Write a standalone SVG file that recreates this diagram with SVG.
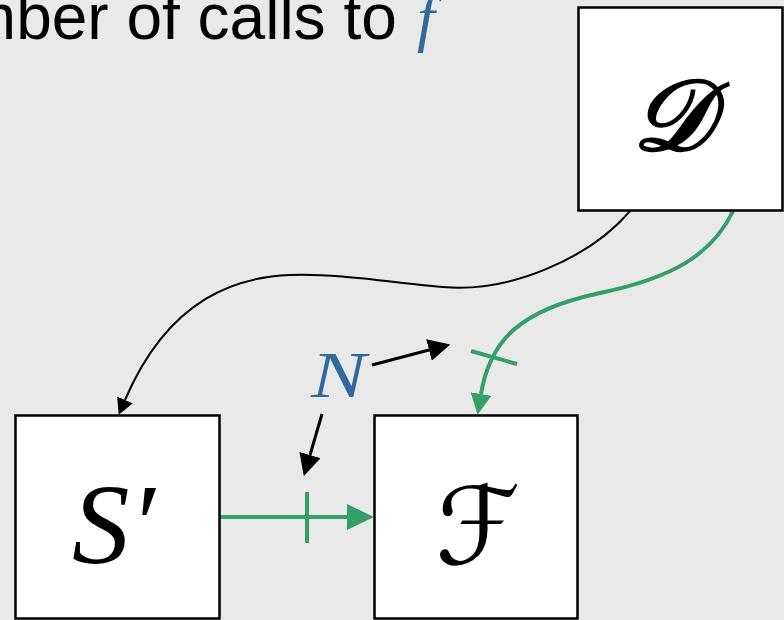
<svg xmlns="http://www.w3.org/2000/svg" width="784" height="620" viewBox="0 0 784 620">
<defs>
<style>
.box{fill:#fff;stroke:#000;stroke-width:2.5}
.cal{font-family:"DejaVu Serif","DejaVu Sans",serif;font-style:italic;fill:#000;text-anchor:middle}
.it{font-family:"Liberation Serif","Times New Roman",serif;font-style:italic}
.blk{fill:none;stroke:#000}
.grn{fill:none;stroke:#369e68;stroke-width:4}
</style>
<marker id="ab" viewBox="0 0 22 22" refX="0" refY="11" markerWidth="22" markerHeight="22" markerUnits="userSpaceOnUse" orient="auto"><path d="M0,0 L22,11 L0,22 z" fill="#000"/></marker>
<marker id="abs" viewBox="0 0 16 17" refX="0" refY="8.5" markerWidth="16" markerHeight="17" markerUnits="userSpaceOnUse" orient="auto"><path d="M0,0 L16,8.5 L0,17 z" fill="#000"/></marker>
<marker id="ag" viewBox="0 0 27 26" refX="0" refY="13" markerWidth="27" markerHeight="26" markerUnits="userSpaceOnUse" orient="auto"><path d="M0,0 L27,13 L0,26 z" fill="#369e68"/></marker>
<marker id="agm" viewBox="0 0 21 21" refX="0" refY="10.5" markerWidth="21" markerHeight="21" markerUnits="userSpaceOnUse" orient="auto"><path d="M0,0 L21,10.5 L0,21 z" fill="#369e68"/></marker>
</defs>
<rect width="784" height="620" fill="#e9e9e9"/>
<g id="title">
<text x="-119" y="39" font-family="Liberation Sans, Arial, sans-serif" font-size="64" fill="#000">Number of calls to</text>
<text class="it" x="417" y="39" font-size="64" fill="#31699e">f</text>
</g>
<g id="connectors">
<path class="blk" stroke-width="2" d="M630,211 C590,258 510,293 443,287 C400,284 340,273 290,275 C240,277 170,295 125,400" marker-end="url(#abs)"/>
<path class="grn" d="M733,211 C712,255 672,278 600,293 C520,310 490,340 481,394" marker-end="url(#agm)"/>
<path class="grn" d="M220,517 L347,517" marker-end="url(#ag)"/>
<line class="grn" x1="307" y1="492" x2="307" y2="543"/>
<line class="grn" x1="471" y1="351" x2="517" y2="364"/>
<path class="blk" stroke-width="3" d="M372,365 L429,350" marker-end="url(#ab)"/>
<path class="blk" stroke-width="3" d="M322,414 L310,455" marker-end="url(#ab)"/>
</g>
<g id="N">
<text class="it" x="311" y="397" font-size="66" fill="#31699e" textLength="55" lengthAdjust="spacingAndGlyphs">N</text>
</g>
<g id="D">
<rect class="box" x="578.5" y="7.5" width="204" height="203"/>
<text class="cal" x="672" y="150" font-size="100" font-weight="bold">𝒟</text>
</g>
<g id="S">
<rect class="box" x="15.5" y="415.5" width="204" height="203"/>
<text class="it" x="72" y="563" font-size="115" fill="#000">S′</text>
</g>
<g id="F">
<rect class="box" x="374.5" y="415.5" width="203" height="203"/>
<text class="cal" x="478" y="564" font-size="108">ℱ</text>
</g>
</svg>
